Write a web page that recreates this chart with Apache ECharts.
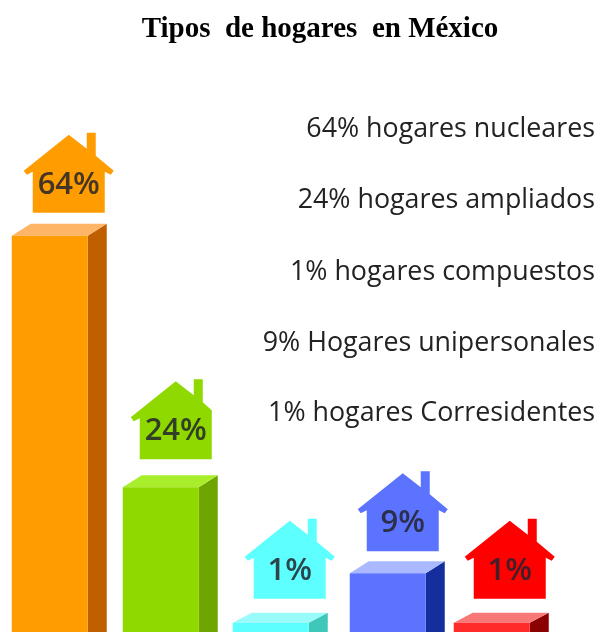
<!DOCTYPE html>
<html>
<head>
<meta charset="utf-8">
<title>Tipos de hogares en México</title>
<script src="https://cdn.jsdelivr.net/npm/echarts@6/dist/echarts.min.js"></script>
<style>
  html, body { margin: 0; background: #fff; }
  #main { width: 598px; height: 632px; }
</style>
</head>
<body>
<div id="main"></div>
<script>
// datos
const categorias = ["nucleares", "ampliados", "compuestos", "unipersonales", "corresidentes"];
const etiquetas = ["64%", "24%", "1%", "9%", "1%"];
// altura de cada barra
const alturas = [64, 23.4, 1.5, 9.5, 1.5];
const textos = [
  "64% hogares nucleares",
  "24% hogares ampliados",
  "1% hogares compuestos",
  "9% Hogares unipersonales",
  "1% hogares Corresidentes"
];

// colores: frente, tapa, lado
const frente = ["#FF9D00", "#8FD800", "#5DFFFF", "#5B73FF", "#FF2A2A"];
const tapa = ["#FFB566", "#A9EE2A", "#9AFBFB", "#AAB9FF", "#F87878"];
const lado = ["#C05F00", "#6FA500", "#3FC7B9", "#152E9E", "#8B0000"];
const casa = ["#FF9D00", "#8FD800", "#5DFFFF", "#5B73FF", "#FF0000"];

// ajustes de posicion de cada barra y su casita
const ajusteX = [-5, -3.5, -3, 4.5, -1];
const casaX = [19, 15, 19, 15, 18];
const casaGap = [23, 28, 24, 22, 24];

function renderBarra(params, api) {
  let i = params.dataIndex;
  let p = api.coord([i, api.value(1)]);
  let x = p[0] + ajusteX[i];
  let y = p[1];
  let base = api.coord([i, 0])[1];
  let w = 38, dx = 19, dy = i == 2 || i == 4 ? 10 : 12;
  let hx = x + casaX[i];
  let hy = y - casaGap[i];
  let derecha = [[18, -64], [18, -80], [27, -80], [27, -57], [45, -42], [42, -38], [36, -41]];
  // la casita verde sale cortada por la derecha
  if (i == 1) derecha = [[18, -64], [18, -80], [27, -80], [27, -57], [36, -49]];
  let puntos = [[0, -78]].concat(derecha, [[36, 0], [-36, 0], [-36, -41], [-42, -38], [-45, -42]])
    .map(q => [hx + q[0], hy + q[1]]);
  return {
    type: "group",
    children: [
      { type: "polygon", shape: { points: [[x + w, y], [x + w + dx, y - dy], [x + w + dx, base], [x + w, base]] }, style: { fill: lado[i] } },
      { type: "polygon", shape: { points: [[x - w, y], [x + w, y], [x + w + dx, y - dy], [x - w + dx, y - dy]] }, style: { fill: tapa[i] } },
      { type: "rect", shape: { x: x - w, y: y, width: w * 2, height: base - y }, style: { fill: frente[i] } },
      { type: "polygon", shape: { points: puntos }, style: { fill: casa[i] } },
      {
        type: "text",
        style: {
          x: hx, y: hy - 28,
          text: etiquetas[i],
          align: "center", verticalAlign: "middle",
          fontFamily: "Open Sans", fontWeight: 600, fontSize: 31,
          fill: "rgba(35,35,45,0.85)"
        }
      }
    ]
  };
}

const yTextos = [127, 198, 270, 341, 411];

let myChart = echarts.init(document.getElementById("main"));
myChart.setOption({
  animation: false,
  backgroundColor: "#fff",
  title: {
    text: "Tipos  de hogares  en México",
    left: 315, top: 10, textAlign: "center",
    textStyle: { fontFamily: "Liberation Serif", fontWeight: "bold", fontSize: 29, color: "#000" }
  },
  grid: { left: 0, width: 547.5, top: 13, bottom: 0 },
  xAxis: { type: "category", data: categorias, show: false },
  yAxis: { type: "value", min: 0, max: 100, show: false },
  graphic: textos.map((t, i) => ({
    type: "text",
    right: 3,
    top: yTextos[i] - 11,
    style: { text: t, fontFamily: "Open Sans", fontSize: 26.8, fill: "#222" }
  })),
  series: [{
    type: "custom",
    renderItem: renderBarra,
    clip: false,
    encode: { x: 0, y: 1 },
    data: alturas.map((v, i) => [i, v])
  }]
});
</script>
</body>
</html>
